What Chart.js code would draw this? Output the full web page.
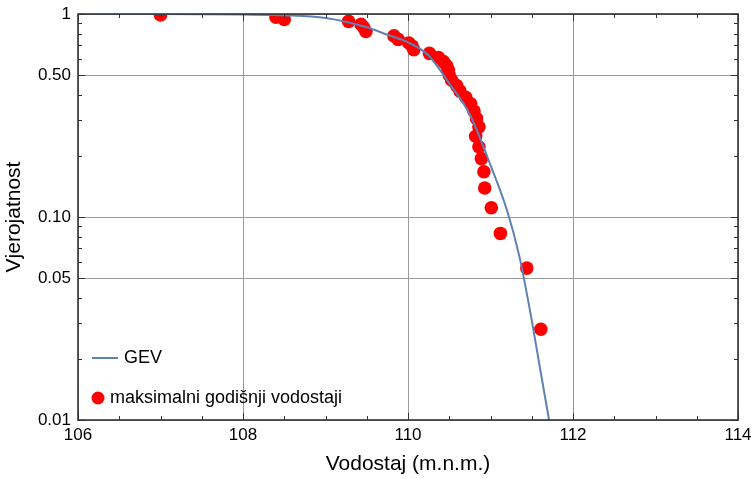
<!DOCTYPE html>
<html>
<head>
<meta charset="utf-8">
<script src="https://cdn.jsdelivr.net/npm/chart.js@4/dist/chart.umd.min.js"></script>
<style>
  html, body { margin: 0; padding: 0; background: #fff; }
  #wrap { width: 753px; height: 479px; position: relative; }
</style>
</head>
<body>
<div id="wrap"><canvas id="c"></canvas></div>
<script>
// GEV krivulja (ocitano sa slike)
const gevX = [106, 107, 108, 108.5, 109, 109.5, 109.75, 110, 110.25, 110.5, 110.75, 111, 111.2, 111.35, 111.5, 111.6, 111.71];
const gevP = [0.9999, 0.999, 0.993, 0.985, 0.955, 0.86, 0.79, 0.725, 0.625, 0.455, 0.32, 0.18, 0.108, 0.064, 0.031, 0.018, 0.01];

// maksimalni godisnji vodostaji
const obsX = [107.00, 108.40, 108.50, 109.28, 109.43, 109.46, 109.49, 109.83, 109.88, 110.01, 110.05, 110.07,
              110.26, 110.37, 110.43, 110.47, 110.49, 110.50, 110.53, 110.59, 110.63, 110.70, 110.76, 110.80,
              110.83, 110.86, 110.82, 110.86, 110.89, 110.92, 110.93, 111.01, 111.12, 111.44, 111.61];
const obsP = [0.99, 0.965, 0.94, 0.92, 0.89, 0.86, 0.82, 0.78, 0.75, 0.72, 0.695, 0.667,
              0.64, 0.611, 0.583, 0.556, 0.528, 0.50, 0.472, 0.444, 0.417, 0.389, 0.361, 0.333,
              0.306, 0.278, 0.25, 0.222, 0.194, 0.167, 0.139, 0.111, 0.083, 0.056, 0.028];

const xTicks = [106, 108, 110, 112, 114];
const xMinor = [106.5, 107, 107.5, 108.5, 109, 109.5, 110.5, 111, 111.5, 112.5, 113, 113.5];
const yTicks = [0.01, 0.05, 0.1, 0.5, 1];
const yTickLabels = ["0.01", "0.05", "0.10", "0.50", "1"];
const yMinor = [0.02, 0.03, 0.04, 0.06, 0.07, 0.08, 0.09, 0.2, 0.3, 0.4, 0.6, 0.7, 0.8, 0.9];

const FONT = "'Liberation Sans', Arial, sans-serif";
const FRAME = "#333333";
const GRID = "#9a9a9a";
const BLUE = "#5e81b5";
const RED = "#ff0000";

const pts = (xs, ys) => xs.map((x, i) => ({ x: x, y: ys[i] }));

// okvir + crtice na sve cetiri strane
const framePlugin = {
  id: "frame",
  afterDatasetsDraw(chart) {
    const { ctx, chartArea: a, scales } = chart;
    const xs = scales.x, ys = scales.y;
    ctx.save();
    ctx.strokeStyle = FRAME;
    ctx.lineWidth = 1;
    const tick = (x1, y1, x2, y2) => { ctx.beginPath(); ctx.moveTo(x1, y1); ctx.lineTo(x2, y2); ctx.stroke(); };
    xTicks.forEach((v) => { const p = Math.round(xs.getPixelForValue(v)) + 0.5; tick(p, a.bottom, p, a.bottom - 7); tick(p, a.top, p, a.top + 7); });
    xMinor.forEach((v) => { const p = Math.round(xs.getPixelForValue(v)) + 0.5; tick(p, a.bottom, p, a.bottom - 4); tick(p, a.top, p, a.top + 4); });
    yTicks.forEach((v) => { const p = Math.round(ys.getPixelForValue(v)) + 0.5; tick(a.left, p, a.left + 7, p); tick(a.right, p, a.right - 7, p); });
    yMinor.forEach((v) => { const p = Math.round(ys.getPixelForValue(v)) + 0.5; tick(a.left, p, a.left + 4, p); tick(a.right, p, a.right - 4, p); });
    ctx.lineWidth = 1.6;
    ctx.strokeRect(a.left, a.top, a.right - a.left, a.bottom - a.top);
    ctx.restore();
  }
};

// legenda unutar grafa, dolje lijevo, bez pozadine
const legendPlugin = {
  id: "insideLegend",
  afterDraw(chart) {
    const { ctx } = chart;
    const ds = chart.data.datasets;
    ctx.save();
    ctx.font = "18px " + FONT;
    ctx.fillStyle = "#000";
    ctx.textBaseline = "middle";
    ctx.strokeStyle = BLUE;
    ctx.lineWidth = 2;
    ctx.beginPath(); ctx.moveTo(92, 358); ctx.lineTo(118, 358); ctx.stroke();
    ctx.fillText(ds[0].label, 124, 358);
    ctx.fillStyle = RED;
    ctx.beginPath(); ctx.arc(98, 398, 6.5, 0, Math.PI * 2); ctx.fill();
    ctx.fillStyle = "#000";
    ctx.fillText(ds[1].label, 110, 398);
    ctx.restore();
  }
};

new Chart(document.getElementById("c"), {
  type: "scatter",
  data: {
    datasets: [
      { type: "line", label: "GEV", data: pts(gevX, gevP), borderColor: BLUE, borderWidth: 2, pointRadius: 0,
        fill: false, cubicInterpolationMode: "monotone", clip: 0 },
      { label: "maksimalni godišnji vodostaji", data: pts(obsX, obsP), backgroundColor: RED, borderColor: RED,
        pointRadius: 6.8, borderWidth: 0, clip: 0 }
    ]
  },
  options: {
    responsive: true,
    maintainAspectRatio: false,
    animation: false,
    layout: { padding: { top: 14, right: 15, left: 0, bottom: 0 } },
    plugins: { legend: { display: false }, tooltip: { enabled: false } },
    scales: {
      x: {
        type: "linear", min: 106, max: 114,
        afterBuildTicks: (s) => { s.ticks = xTicks.map((v) => ({ value: v })); },
        afterFit: (s) => { s.height = 59; s.paddingLeft = 0; s.paddingRight = 0; },
        ticks: { color: "#000", font: { family: FONT, size: 17 }, padding: 5, autoSkip: false, maxRotation: 0,
                 callback: (v) => String(v) },
        grid: { drawTicks: false, color: GRID, lineWidth: 1 },
        border: { display: false },
        title: { display: true, text: "Vodostaj (m.n.m.)", color: "#000", font: { family: FONT, size: 21 },
                 padding: { top: 0, bottom: 2 } }
      },
      y: {
        type: "logarithmic", min: 0.01, max: 1,
        afterBuildTicks: (s) => { s.ticks = yTicks.map((v) => ({ value: v })); },
        afterFit: (s) => { s.width = 78; s.paddingTop = 0; s.paddingBottom = 0; },
        ticks: { color: "#000", font: { family: FONT, size: 17 }, padding: 7, autoSkip: false,
                 callback: (v) => { const i = yTicks.indexOf(v); return i >= 0 ? yTickLabels[i] : ""; } },
        grid: { drawTicks: false, color: GRID, lineWidth: 1 },
        border: { display: false },
        title: { display: true, text: "Vjerojatnost", color: "#000", font: { family: FONT, size: 21 },
                 padding: { top: 2, bottom: 0 } }
      }
    }
  },
  plugins: [framePlugin, legendPlugin]
});
</script>
</body>
</html>
